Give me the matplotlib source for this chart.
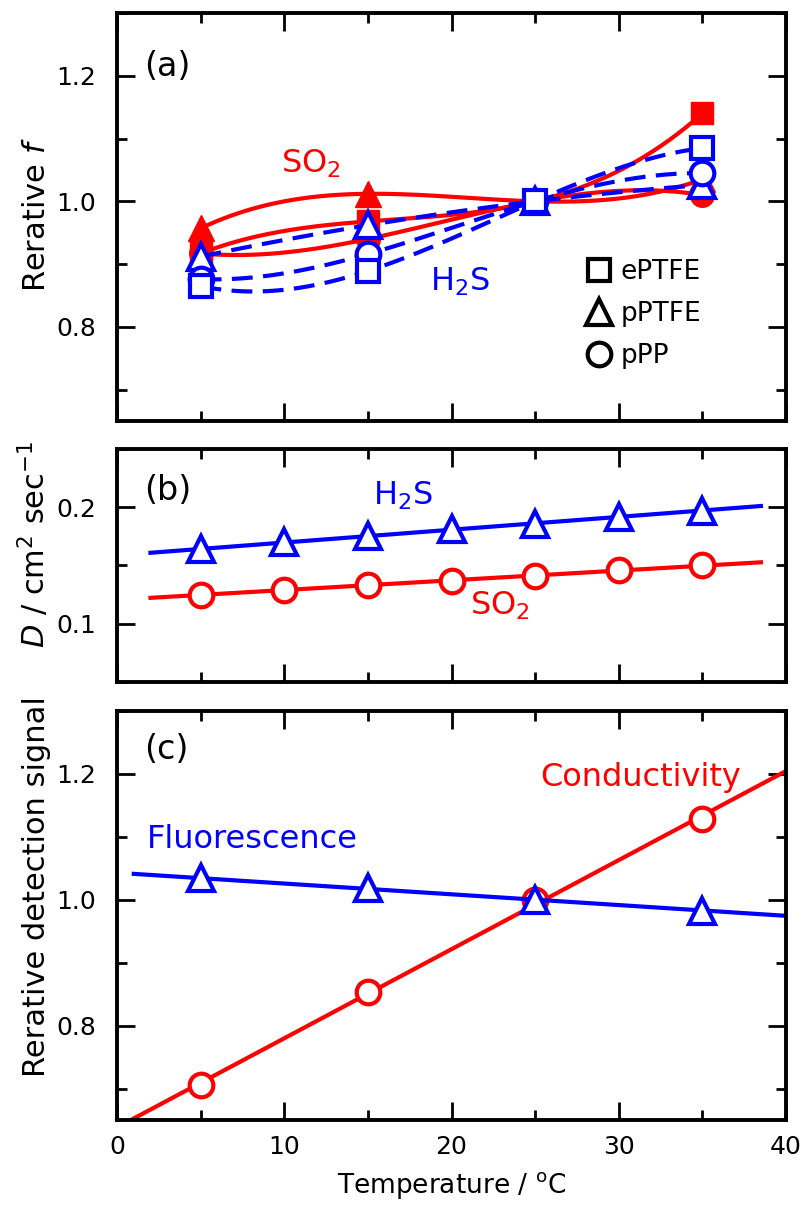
import numpy as np
import matplotlib.pyplot as plt
from matplotlib.lines import Line2D
from matplotlib.ticker import MultipleLocator

plt.rcParams['font.family'] = 'DejaVu Sans'
plt.rcParams['mathtext.fontset'] = 'dejavusans'

RED = '#ff0000'
BLUE = '#0000ff'

# ---- (a) relative f vs temperature
temp_a = [5, 15, 25, 35]
so2_eptfe = [0.917, 0.968, 1.0, 1.140]
so2_pptfe = [0.957, 1.012, 1.0, 1.035]
so2_ppp = [0.917, 0.940, 1.0, 1.010]
h2s_eptfe = [0.865, 0.889, 1.0, 1.085]
h2s_pptfe = [0.912, 0.962, 1.0, 1.026]
h2s_ppp = [0.876, 0.916, 1.0, 1.045]

# ---- (b) diffusion coefficient
temp_b = [5, 10, 15, 20, 25, 30, 35]
d_h2s = [0.164, 0.170, 0.175, 0.181, 0.186, 0.192, 0.197]
d_so2 = [0.125, 0.129, 0.133, 0.137, 0.141, 0.146, 0.150]

# ---- (c) relative detection signal
temp_c = [5, 15, 25, 35]
fluor = [1.034, 1.018, 1.0, 0.983]
cond = [0.705, 0.853, 1.0, 1.128]

legend_labels = ['ePTFE', 'pPTFE', 'pPP']


def spline(x, y):
    # smooth curve through the 4 points
    c = np.polyfit(x, y, 3)
    xs = np.linspace(min(x), max(x), 200)
    return xs, np.polyval(c, xs)


def fitline(x, y, x0, x1):
    c = np.polyfit(x, y, 1)
    xs = np.array([x0, x1])
    return xs, np.polyval(c, xs)


def style(ax):
    ax.set_xlim(0, 40)
    ax.xaxis.set_major_locator(MultipleLocator(10))
    ax.xaxis.set_minor_locator(MultipleLocator(5))
    ax.tick_params(which='both', direction='in', top=True, right=True,
                   width=2, labelsize=18, pad=11)
    ax.tick_params(axis='y', pad=15)
    ax.tick_params(which='major', length=13)
    ax.tick_params(which='minor', length=7)
    for s in ax.spines.values():
        s.set_linewidth(2.8)


fig = plt.figure(figsize=(8.06, 12.06), dpi=100)
ax1 = fig.add_axes([0.1452, 0.6509, 0.830, 0.3383])
ax2 = fig.add_axes([0.1452, 0.4345, 0.830, 0.1932])
ax3 = fig.add_axes([0.1452, 0.0713, 0.830, 0.3391])

lw = 3
ms = 17
mst = 19
mew = 3
tsize = 23
ysize = 22

# ===================== (a)
for yv in [so2_eptfe, so2_pptfe, so2_ppp]:
    xs, ys = spline(temp_a, yv)
    ax1.plot(xs, ys, color=RED, lw=lw)
for yv, mk, m in [(so2_eptfe, 's', ms - 1), (so2_pptfe, '^', mst), (so2_ppp, 'o', ms)]:
    ax1.plot(temp_a, yv, ls='none', marker=mk, ms=m, color=RED, mec=RED)
for yv in [h2s_eptfe, h2s_pptfe, h2s_ppp]:
    xs, ys = spline(temp_a, yv)
    ax1.plot(xs, ys, color=BLUE, lw=lw, ls=(0, (5, 2.5)))
for yv, mk, m in [(h2s_pptfe, '^', mst), (h2s_ppp, 'o', ms), (h2s_eptfe, 's', ms - 1)]:
    ax1.plot(temp_a, yv, ls='none', marker=mk, ms=m, mfc='white',
             mec=BLUE, mew=mew)

ax1.set_ylim(0.65, 1.3)
ax1.yaxis.set_minor_locator(MultipleLocator(0.1))
ax1.set_yticks([0.8, 1.0, 1.2])
ax1.set_yticklabels(['0.8', '1.0', '1.2'])
style(ax1)
ax1.tick_params(labelbottom=False)
ax1.set_ylabel('Rerative $f$', fontsize=ysize)
ax1.text(0.040, 0.87, '(a)', transform=ax1.transAxes, fontsize=24, va='center')
ax1.text(9.8, 1.06, 'SO$_2$', color=RED, fontsize=tsize, va='center')
ax1.text(18.7, 0.871, 'H$_2$S', color=BLUE, fontsize=tsize, va='center')

handles = [Line2D([], [], ls='none', marker=m, ms=s, mfc='white', mec='black', mew=mew)
           for m, s in [('s', ms - 1), ('^', mst), ('o', ms)]]
ax1.legend(handles, legend_labels, loc='center left', bbox_to_anchor=(0.70, 0.262),
           frameon=False, fontsize=19, handlelength=1, handletextpad=0.35,
           labelspacing=0.6, borderpad=0, borderaxespad=0)

# ===================== (b)
xs, ys = fitline(temp_b, d_so2, 2, 38.5)
ax2.plot(xs, ys, color=RED, lw=lw)
ax2.plot(temp_b, d_so2, ls='none', marker='o', ms=ms, mfc='white', mec=RED, mew=mew)
xs, ys = fitline(temp_b, d_h2s, 2, 38.5)
ax2.plot(xs, ys, color=BLUE, lw=lw)
ax2.plot(temp_b, d_h2s, ls='none', marker='^', ms=mst, mfc='white', mec=BLUE, mew=mew)

ax2.set_ylim(0.05, 0.25)
ax2.yaxis.set_major_locator(MultipleLocator(0.1))
ax2.yaxis.set_minor_locator(MultipleLocator(0.05))
style(ax2)
ax2.tick_params(labelbottom=False)
ax2.set_ylabel('$D$ / cm$^2$ sec$^{-1}$', fontsize=ysize)
ax2.text(0.040, 0.824, '(b)', transform=ax2.transAxes, fontsize=24, va='center')
ax2.text(15.3, 0.210, 'H$_2$S', color=BLUE, fontsize=tsize, va='center')
ax2.text(21.1, 0.1155, 'SO$_2$', color=RED, fontsize=tsize, va='center')

# ===================== (c)
xs, ys = fitline(temp_c, cond, 1, 40)
ax3.plot(xs, ys, color=RED, lw=lw)
ax3.plot(temp_c, cond, ls='none', marker='o', ms=ms, mfc='white', mec=RED, mew=mew)
xs, ys = fitline(temp_c, fluor, 1, 40)
ax3.plot(xs, ys, color=BLUE, lw=lw)
ax3.plot(temp_c, fluor, ls='none', marker='^', ms=mst, mfc='white', mec=BLUE, mew=mew)

ax3.set_ylim(0.65, 1.3)
ax3.yaxis.set_minor_locator(MultipleLocator(0.1))
ax3.set_yticks([0.8, 1.0, 1.2])
ax3.set_yticklabels(['0.8', '1.0', '1.2'])
style(ax3)
ax3.set_ylabel('Rerative detection signal', fontsize=ysize)
ax3.set_xlabel('Temperature / $^{\\rm o}$C', fontsize=19, labelpad=8)
ax3.text(0.040, 0.905, '(c)', transform=ax3.transAxes, fontsize=24, va='center')
ax3.text(1.8, 1.096, 'Fluorescence', color=BLUE, fontsize=tsize, va='center')
ax3.text(25.3, 1.194, 'Conductivity', color=RED, fontsize=tsize, va='center')

ax1.yaxis.set_label_coords(-0.098, 0.505)
ax2.yaxis.set_label_coords(-0.098, 0.59)
ax3.yaxis.set_label_coords(-0.098, 0.572)

fig.savefig('out.png', dpi=100)
